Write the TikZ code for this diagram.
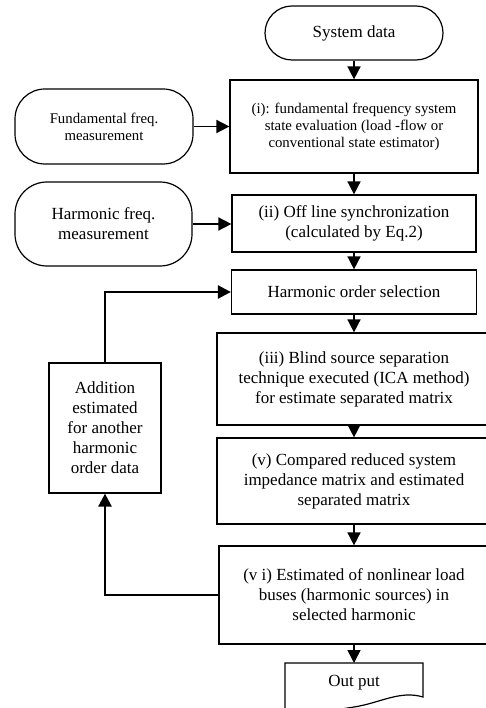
\documentclass[tikz,border=0pt]{standalone}
\usepackage{fontspec}
\setmainfont{Liberation Serif}
\usetikzlibrary{arrows.meta}
\begin{document}
\begin{tikzpicture}[x=1pt,y=-1pt,
  base/.style={draw, line width=1.2pt, align=center, inner sep=0pt, font=\fontsize{17}{20}\selectfont},
  procbox/.style={base},
  smallbox/.style={base, font=\fontsize{14.8}{17}\selectfont},
  termbox/.style={base, rounded corners=27pt},
  flow/.style={line width=1.6pt, -{Triangle[length=13pt,width=13pt]}},
  back/.style={line width=2.5pt, -{Triangle[length=13pt,width=13pt]}}]
\useasboundingbox (0,0) rectangle (486,708);

\node[termbox, minimum width=178pt, minimum height=54pt] (sys) at (354,33) {System data};
\node[smallbox, minimum width=248pt, minimum height=93pt] (i) at (354,126.5)
  {(i): fundamental frequency system\\ state evaluation (load -flow or\\ conventional state estimator)};
\node[smallbox, rounded corners=30pt, minimum width=178pt, minimum height=75pt] (fund) at (104,126.5)
  {Fundamental freq.\\ measurement};
\node[procbox, minimum width=244pt, minimum height=57pt] (ii) at (354,223.5)
  {(ii) Off line synchronization\\ (calculated by Eq.2)};
\node[termbox, rounded corners=32pt, minimum width=177pt, minimum height=84pt] (harm) at (103.5,224)
  {Harmonic freq.\\ measurement};
\node[procbox, minimum width=245pt, minimum height=44pt] (hos) at (354,292)
  {Harmonic order selection};
\node[procbox, minimum width=274pt, minimum height=92pt] (iii) at (354,379) {};
\node[font=\fontsize{17}{20}\selectfont, align=center] at (354,379)
  {(iii) Blind source separation\\ technique executed (ICA method)\\ for estimate separated matrix};
\node[procbox, minimum width=274pt, minimum height=86pt] (v) at (354,481) {};
\node[font=\fontsize{17}{20}\selectfont, align=center] at (354,481)
  {(v) Compared reduced system\\ impedance matrix and estimated\\ separated matrix};
\node[procbox, minimum width=272pt, minimum height=98pt] (vi) at (355,595) {};
\node[font=\fontsize{17}{20}\selectfont, align=center] at (354,595)
  {(v i) Estimated of nonlinear load\\ buses (harmonic sources) in\\ selected harmonic};
\node[procbox, minimum width=112pt, minimum height=130pt] (add) at (105,428)
  {Addition\\ estimated\\ for another\\ harmonic\\ order data};

% output document shape
\coordinate (out) at (354,663);
\draw[line width=1.2pt] (285,715) -- (285,663) -- (423,663) -- (423,697)
  .. controls (400,690) and (380,703) .. (354,707) .. controls (330,711) and (300,714) .. (285,715);
\node[font=\fontsize{17}{20}\selectfont] (outtxt) at (354,683) {Out put};

\draw[flow] (sys) -- (i);
\draw[flow] (i) -- (ii);
\draw[flow] (ii) -- (hos);
\draw[flow] (hos.south) -- (hos.south |- iii.north);
\draw[flow] (iii.south) -- (iii.south |- v.north);
\draw[flow] (v.south) -- (v.south |- vi.north);
\draw[flow] (vi.south -| out) -- (out);
\draw[flow] (fund) -- (i);
\draw[flow] (harm.east) -- (harm.east -| ii.west);
\draw[back] (vi.west) -| (add.south);
\draw[back] (add.north) |- (hos.west);
\end{tikzpicture}
\end{document}
